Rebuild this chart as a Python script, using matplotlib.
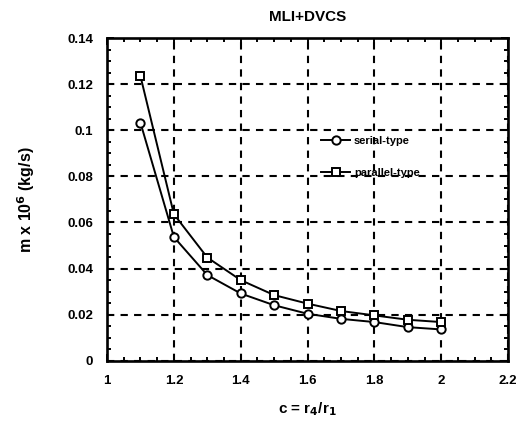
import matplotlib
matplotlib.use("Agg")
import matplotlib.pyplot as plt
from matplotlib.ticker import MultipleLocator

plt.rcParams['font.family'] = ['Liberation Sans', 'DejaVu Sans']
plt.rcParams['font.weight'] = 'bold'

c = [1.1, 1.2, 1.3, 1.4, 1.5, 1.6, 1.7, 1.8, 1.9, 2.0]
serial = [0.1033, 0.0537, 0.0372, 0.0292, 0.0241, 0.0204, 0.0182, 0.0168, 0.0146, 0.0136]
parallel = [0.1235, 0.0636, 0.0448, 0.0350, 0.0285, 0.0248, 0.0216, 0.0197, 0.0178, 0.0168]

fig = plt.figure(figsize=(5.17, 4.28), dpi=100)
ax = fig.add_axes([0.207, 0.157, 0.776, 0.754])

ax.plot(c, serial, '-o', color='black', lw=1.4, ms=6, mfc='white', mec='black', mew=1.4, label='serial-type')
ax.plot(c, parallel, '-s', color='black', lw=1.4, ms=6, mfc='white', mec='black', mew=1.4, label='parallel-type')

ax.set_xlim(1, 2.2)
ax.set_ylim(0, 0.14)
ax.xaxis.set_minor_locator(MultipleLocator(0.05))
ax.yaxis.set_minor_locator(MultipleLocator(0.005))
ax.set_xticks([1, 1.2, 1.4, 1.6, 1.8, 2, 2.2])
ax.set_xticklabels(['1', '1.2', '1.4', '1.6', '1.8', '2', '2.2'])
ax.set_yticks([0, 0.02, 0.04, 0.06, 0.08, 0.1, 0.12, 0.14])
ax.set_yticklabels(['0', '0.02', '0.04', '0.06', '0.08', '0.1', '0.12', '0.14'])

ax.tick_params(which='both', direction='in', top=True, right=True, width=1.4, labelsize=9.5, pad=10)
ax.tick_params(which='major', length=5)
ax.tick_params(which='minor', length=3)
for s in ax.spines.values():
    s.set_linewidth(1.9)

ax.grid(True, which='major', color='black', linestyle=(0, (3.5, 3)), lw=1.5)

ax.set_title('MLI+DVCS', fontsize=11, fontweight='bold', pad=12)
ax.set_xlabel('c = r$_\\mathbf{4}$/r$_\\mathbf{1}$', fontsize=11, fontweight='bold', labelpad=10)
ax.set_ylabel('m x 10$^\\mathbf{6}$ (kg/s)', fontsize=11.5, fontweight='bold', labelpad=22)

leg = ax.legend(loc='upper left', bbox_to_anchor=(0.52, 0.715), frameon=False, fontsize=8,
                labelspacing=2.0, handlelength=2.6, handletextpad=0.35, borderpad=0)

fig.savefig('out.png', dpi=100)
